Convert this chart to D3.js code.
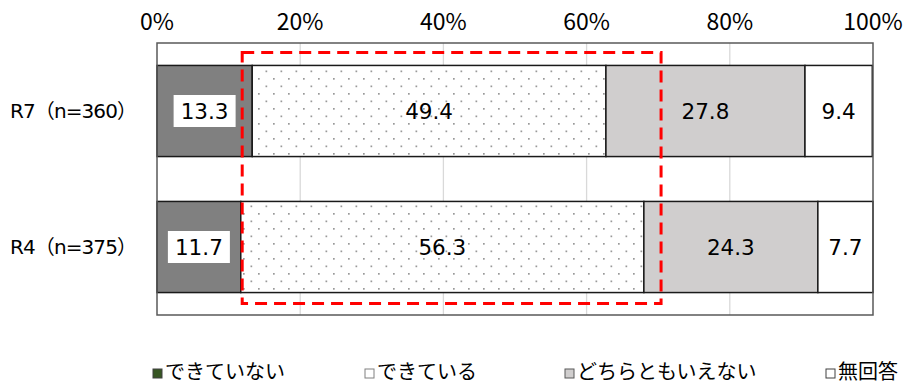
<!DOCTYPE html>
<html>
<head>
<meta charset="utf-8">
<script src="https://cdn.jsdelivr.net/npm/d3@7"></script>
<style>
  body { margin: 0; background: #fff; }
  text { font-family: "DejaVu Sans", "Noto Sans CJK JP", sans-serif; fill: #000; }
  .tick-lab { font-family: "Noto Sans CJK JP", sans-serif; }
  .jp { font-family: "Noto Sans CJK JP", sans-serif; }
</style>
</head>
<body>
<svg id="chart" width="915" height="385"></svg>
<script>
var categories = ["R7（n=360）", "R4（n=375）"];
var seriesNames = ["できていない", "できている", "どちらともいえない", "無回答"];
var seriesR7 = [13.3, 49.4, 27.8, 9.4];
var seriesR4 = [11.7, 56.3, 24.3, 7.7];
var tickValues = [0, 20, 40, 60, 80, 100];
var highlightRange = [11.9, 70.4];

var fills = ["#808080", "url(#dots)", "#d0cece", "#ffffff"];
var legendFills = ["#375623", "#ffffff", "#d0cece", "#ffffff"];
var legendStrokes = ["#404040", "#808080", "#595959", "#404040"];

var svg = d3.select("#chart");
var defs = svg.append("defs");
var pat = defs.append("pattern")
    .attr("id", "dots")
    .attr("patternUnits", "userSpaceOnUse")
    .attr("width", 15).attr("height", 15);
pat.append("rect").attr("width", 15).attr("height", 15).attr("fill", "#fff");
pat.append("rect").attr("x", 3).attr("y", 3).attr("width", 1.7).attr("height", 1.7).attr("fill", "#999");
pat.append("rect").attr("x", 10.5).attr("y", 10.5).attr("width", 1.7).attr("height", 1.7).attr("fill", "#999");

var plotL = 157, plotR = 873, plotT = 43, plotB = 315;

var x = d3.scaleLinear().domain([0, 100]).range([plotL, plotR]);
var y = d3.scaleBand().domain(categories).range([plotT, plotB]).paddingInner(0.33).paddingOuter(0.165);

// gridlines
svg.append("g").selectAll("line")
  .data(tickValues.slice(1, -1))
  .enter().append("line")
    .attr("x1", function(d) { return x(d); })
    .attr("x2", function(d) { return x(d); })
    .attr("y1", plotT).attr("y2", plotB)
    .attr("stroke", "#d9d9d9").attr("stroke-width", 1.3);

// top axis labels
svg.append("g").selectAll("text")
  .data(tickValues)
  .enter().append("text")
    .attr("class", "tick-lab")
    .attr("x", function(d) { return x(d); })
    .attr("y", 30)
    .attr("text-anchor", "middle")
    .attr("font-size", 23)
    .text(function(d) { return d + "%"; });

// stacked bars
var rows = [seriesR7, seriesR4];
rows.forEach(function(vals, i) {
  var cat = categories[i];
  var acc = 0;
  var g = svg.append("g");
  vals.forEach(function(v, j) {
    var x0 = acc, x1 = acc + v;
    acc = x1;
    g.append("rect")
      .attr("x", x(x0)).attr("y", y(cat))
      .attr("width", x(x1) - x(x0)).attr("height", y.bandwidth())
      .attr("fill", fills[j])
      .attr("stroke", "#1a1a1a").attr("stroke-width", 1.5);
    var cx = (x(x0) + x(x1)) / 2, cy = y(cat) + y.bandwidth() / 2;
    if (j === 0) {
      g.append("rect")
        .attr("x", cx - 31).attr("y", cy - 16)
        .attr("width", 62).attr("height", 32)
        .attr("fill", "#fff");
    }
    g.append("text")
      .attr("x", cx).attr("y", cy)
      .attr("dy", "0.36em")
      .attr("text-anchor", "middle")
      .attr("font-size", 21.5)
      .text(v.toFixed(1));
  });
  svg.append("text")
    .attr("x", 137).attr("y", y(cat) + y.bandwidth() / 2)
    .attr("dy", "0.36em")
    .attr("text-anchor", "end")
    .attr("font-size", 20)
    .attr("textLength", 127)
    .attr("lengthAdjust", "spacing")
    .text(cat);
});

// plot border
svg.append("rect")
  .attr("x", plotL).attr("y", plotT)
  .attr("width", plotR - plotL).attr("height", plotB - plotT)
  .attr("fill", "none").attr("stroke", "#595959").attr("stroke-width", 1.5);

// red dashed highlight
svg.append("rect")
  .attr("x", x(highlightRange[0])).attr("y", y(categories[0]) - 13)
  .attr("width", x(highlightRange[1]) - x(highlightRange[0]))
  .attr("height", y(categories[1]) + y.bandwidth() + 11 - (y(categories[0]) - 13))
  .attr("fill", "none").attr("stroke", "#ff0000")
  .attr("stroke-width", 3).attr("stroke-dasharray", "12,7");

// legend
var legendX = [153, 365, 565, 826];
var lg = svg.append("g");
seriesNames.forEach(function(name, i) {
  lg.append("rect")
    .attr("x", legendX[i]).attr("y", 369)
    .attr("width", 9).attr("height", 9)
    .attr("fill", legendFills[i]).attr("stroke", legendStrokes[i]).attr("stroke-width", 1);
  lg.append("text")
    .attr("class", "jp")
    .attr("x", legendX[i] + 12).attr("y", 379)
    .attr("font-size", 20)
    .text(name);
});
</script>
</body>
</html>
